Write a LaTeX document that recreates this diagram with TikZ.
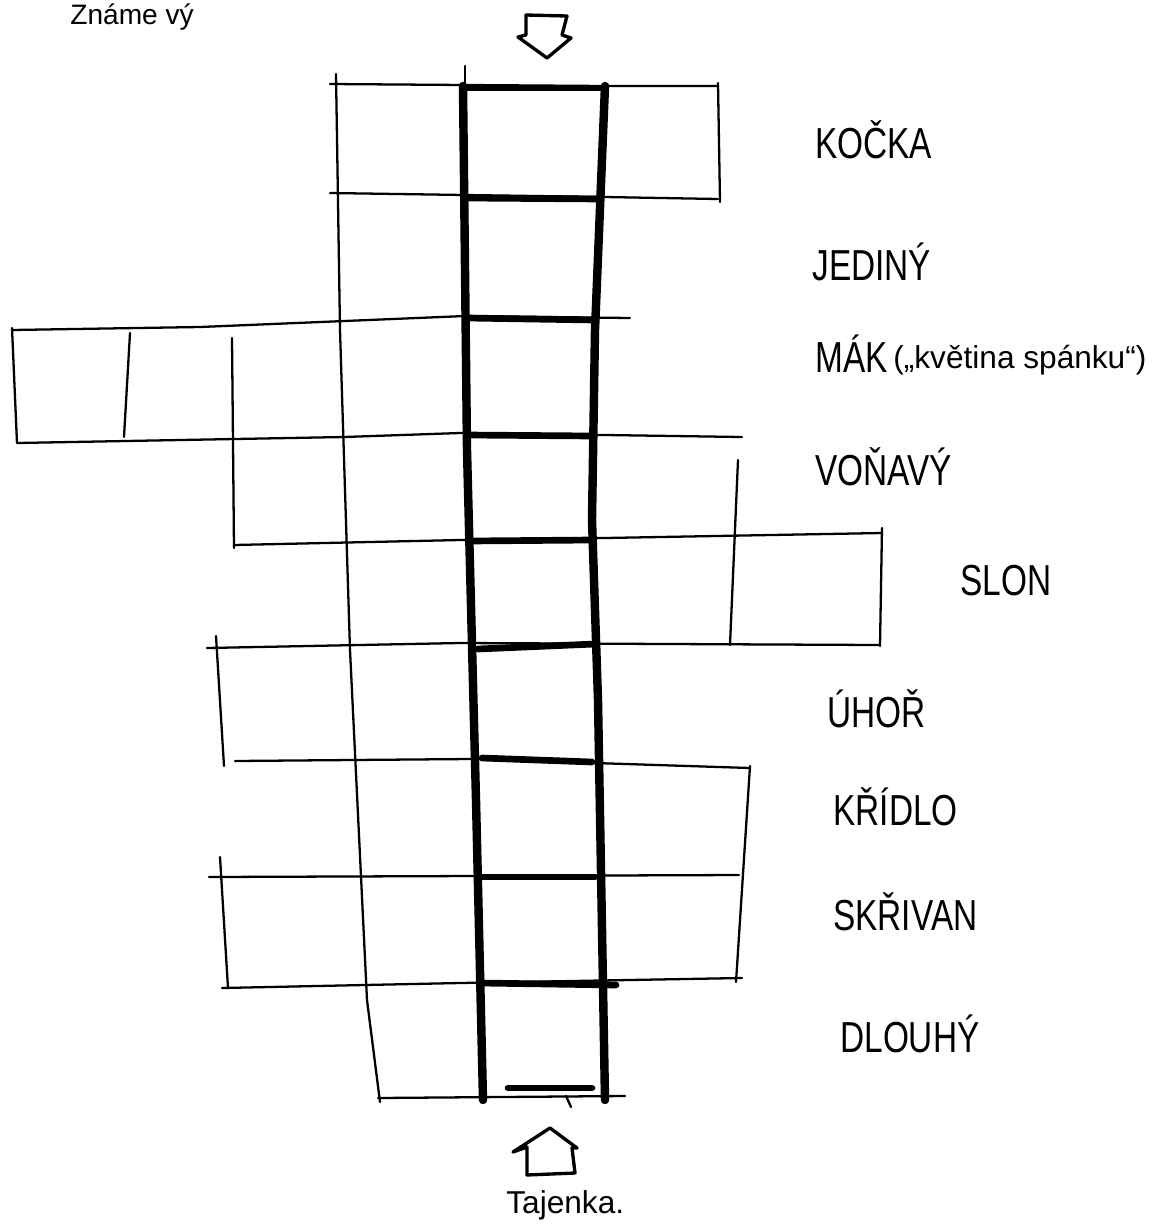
\documentclass[tikz,border=0pt]{standalone}
\usepackage{fontspec}
\setmainfont{Liberation Sans}
\newcommand\labfont{\fontsize{19}{22}\selectfont}
\newcommand\smallfont{\fontsize{18}{21}\selectfont}
\newcommand\topfont{\fontsize{16}{19}\selectfont}
\newcommand\tall[1]{\scalebox{1}[1.3]{#1}}
\begin{document}
\begin{tikzpicture}[x=0.02cm,y=-0.02cm,
  thinln/.style={line width=1.3pt, line cap=round, line join=round},
  solcol/.style={line width=4.8pt, line cap=round, line join=round},
  solbar/.style={line width=3.8pt, line cap=round},
  blockarrow/.style={line width=1.9pt, line join=round},
  wordlabel/.style={font=\labfont, anchor=base west, inner sep=0pt},
  notelabel/.style={font=\smallfont, anchor=base west, inner sep=0pt}]
\useasboundingbox (0,0) rectangle (1157,1225);

% thin grid lines
\draw[thinln] (330,84) -- (465,85) -- (605,86) -- (718,86);
\draw[thinln] (336,74) -- (340,330) -- (350,650) -- (367,1000) -- (380,1102);
\draw[thinln] (465,66) -- (465,90);
\draw[thinln] (718,83) -- (720,202);
\draw[thinln] (330,193) -- (465,195) -- (605,197) -- (718,199);
\draw[thinln] (12,330) -- (200,327) -- (465,316) -- (630,318);
\draw[thinln] (12,328) -- (17,443);
\draw[thinln] (130,333) -- (124,437);
\draw[thinln] (232,338) -- (234,548);
\draw[thinln] (17,443) -- (344,437) -- (460,433) -- (605,435) -- (742,437);
\draw[thinln] (738,460) -- (730,645);
\draw[thinln] (234,545) -- (460,540) -- (605,538) -- (882,533);
\draw[thinln] (882,528) -- (880,646);
\draw[thinln] (207,648) -- (460,643) -- (880,645);
\draw[thinln] (216,636) -- (224,766);
\draw[thinln] (235,761) -- (470,759) -- (750,768);
\draw[thinln] (750,766) -- (736,982);
\draw[thinln] (209,877) -- (739,875);
\draw[thinln] (220,857) -- (228,988);
\draw[thinln] (222,988) -- (460,983) -- (742,978);
\draw[thinln] (378,1098) -- (625,1096);
\draw[thinln] (566,1096) -- (571,1107);

% thick solution column
\draw[solcol] (463,86) -- (467,450) -- (476,800) -- (483,1100);
\draw[solcol] (605,86) -- (595,330) -- (592,520) -- (598,700) -- (605,1100);
\draw[solbar] (465,88) -- (605,88);
\draw[solbar] (467,198) -- (600,199);
\draw[solbar] (467,318) -- (594,320);
\draw[solbar] (468,435) -- (593,436);
\draw[solbar] (469,541) -- (592,540);
\draw[solbar] (478,649) -- (595,644);
\draw[solbar] (482,758) -- (592,762);
\draw[solbar] (482,877) -- (595,877);
\draw[solbar] (480,983) -- (616,985);
\draw[solbar] (508,1088) -- (592,1088);

% arrows
\draw[blockarrow] (526,15) -- (567,16) -- (562,35) -- (571,38) -- (547,58) -- (518,37) -- (526,35) -- cycle;
\draw[blockarrow] (550,1128) -- (577,1148) -- (572,1148) -- (575,1173) -- (527,1175) -- (527,1147) -- (513,1152) -- cycle;

% labels
\node[wordlabel, font=\topfont] (top) at (70,24) {Známe vý};
\node[wordlabel] (w1) at (815,158) {\tall{KOČKA}};
\node[wordlabel] (w2) at (812,280) {\tall{JEDINÝ}};
\node[wordlabel] (w3) at (815,372) {\tall{MÁK}};
\node[notelabel] (w3n) at (893,368) {(„květina spánku“)};
\node[wordlabel] (w4) at (815,485) {\tall{VOŇAVÝ}};
\node[wordlabel] (w5) at (960,595) {\tall{SLON}};
\node[wordlabel] (w6) at (827,727) {\tall{ÚHOŘ}};
\node[wordlabel] (w7) at (833,825) {\tall{KŘÍDLO}};
\node[wordlabel] (w8) at (833,930) {\tall{SKŘIVAN}};
\node[wordlabel] (w9) at (840,1052) {\tall{DLOUHÝ}};
\node[wordlabel, font=\fontsize{18}{21}\selectfont] (taj) at (506,1213) {Tajenka.};
\end{tikzpicture}
\end{document}
